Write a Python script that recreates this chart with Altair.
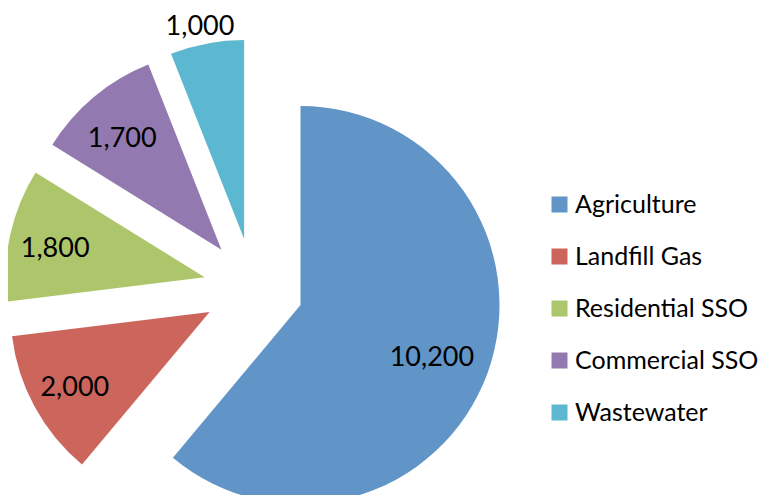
import altair as alt
import pandas as pd

categories = ["Agriculture", "Landfill Gas", "Residential SSO", "Commercial SSO", "Wastewater"]
values = [10200, 2000, 1800, 1700, 1000]
colors = ["#6194C7", "#CC655C", "#ADC56B", "#927AB0", "#5BB8D0"]

df = pd.DataFrame({"category": categories, "value": values, "order": list(range(len(categories)))})

CX, CY = 245.5, 280.0   # pie centre in plot pixels
EXPLODE = 50            # explosion distance
R = 199                 # slice radius
FONT = "Lato"

base = alt.Chart(df).transform_joinaggregate(
    total="sum(value)"
).transform_window(
    cum="sum(value)", sort=[alt.SortField("order")], frame=[None, 0]
).transform_calculate(
    t1="(datum.cum - datum.value) / datum.total * 2 * PI",
    t2="datum.cum / datum.total * 2 * PI",
).transform_calculate(
    mid="(datum.t1 + datum.t2) / 2"
).transform_calculate(
    cx=f"{CX} + {EXPLODE} * sin(datum.mid)",
    cy=f"{CY} - {EXPLODE} * cos(datum.mid)",
    lr="datum.value > 5000 ? 143 : (datum.value < 1500 ? 220 : 150)",
).transform_calculate(
    lx="datum.cx + datum.lr * sin(datum.mid)",
    ly="datum.cy - datum.lr * cos(datum.mid)",
)

arcs = base.mark_arc(radius=R, stroke=None).encode(
    x=alt.X("cx:Q", scale=None, axis=None),
    y=alt.Y("cy:Q", scale=None, axis=None),
    theta=alt.Theta("t1:Q", scale=None, stack=False),
    theta2=alt.Theta2("t2:Q"),
    color=alt.Color(
        "category:N",
        scale=alt.Scale(domain=categories, range=colors),
        sort=categories,
        title=None,
        legend=alt.Legend(
            orient="none", legendX=539, legendY=184,
            symbolType="square", symbolSize=256, symbolStrokeWidth=0,
            labelFontSize=25, labelFont=FONT, labelColor="#000000",
            labelOffset=3, rowPadding=26, padding=0, labelLimit=400,
        ),
    ),
)

labels = base.mark_text(font=FONT, fontSize=27, color="#000000", align="center",
                        baseline="middle", dx=-3, dy=4).encode(
    x=alt.X("lx:Q", scale=None, axis=None),
    y=alt.Y("ly:Q", scale=None, axis=None),
    text=alt.Text("value:Q", format=","),
)

chart = alt.layer(arcs, labels).properties(
    width=755, height=487, padding=0, autosize=alt.AutoSizeParams(type="none")
).configure_view(stroke=None)

chart.save("out.html", embed_options={"renderer": "svg", "actions": False})
